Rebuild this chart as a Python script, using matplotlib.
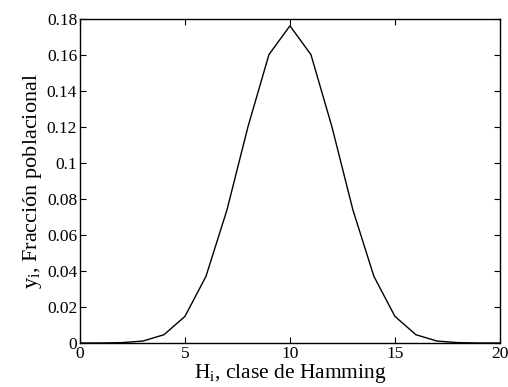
import matplotlib
matplotlib.use("Agg")
import matplotlib.pyplot as plt

plt.rcParams['font.family'] = ['Liberation Serif', 'DejaVu Serif']
plt.rcParams['mathtext.fontset'] = 'custom'
plt.rcParams['mathtext.rm'] = 'Liberation Serif'
plt.rcParams['mathtext.it'] = 'Liberation Serif:italic'

# Hamming class and population fraction
hamming_class = list(range(21))
population_fraction = [0.0000, 0.0000, 0.0002, 0.0011, 0.0046, 0.0148, 0.0370,
                       0.0739, 0.1201, 0.1602, 0.1762, 0.1602, 0.1201, 0.0739,
                       0.0370, 0.0148, 0.0046, 0.0011, 0.0002, 0.0000, 0.0000]
x_ticks = [0, 5, 10, 15, 20]
y_ticks = [0, 0.02, 0.04, 0.06, 0.08, 0.1, 0.12, 0.14, 0.16, 0.18]
y_tick_labels = ['0', '0.02', '0.04', '0.06', '0.08', '0.1', '0.12', '0.14', '0.16', '0.18']

fig = plt.figure(figsize=(5.08, 3.87), dpi=100)
ax = fig.add_axes([0.1575, 0.1137, 0.8265, 0.8373])
ax.plot(hamming_class, population_fraction, color='black', linewidth=1.0)

ax.set_xlim(0, 20)
ax.set_ylim(0, 0.18)
ax.set_xticks(x_ticks)
ax.set_yticks(y_ticks)
ax.set_yticklabels(y_tick_labels)
ax.tick_params(direction='in', top=True, right=True, labelsize=12.5, length=4, width=0.8)
ax.tick_params(axis='x', pad=2)
ax.tick_params(axis='y', pad=2)
for s in ax.spines.values():
    s.set_linewidth(1.0)

ax.set_xlabel(r'H$_\mathrm{i}$, clase de Hamming', fontsize=15.5, labelpad=0)
ax.set_ylabel(r'y$_\mathrm{i}$, Fracción poblacional', fontsize=16, labelpad=2)

fig.savefig('out.png', dpi=100)
